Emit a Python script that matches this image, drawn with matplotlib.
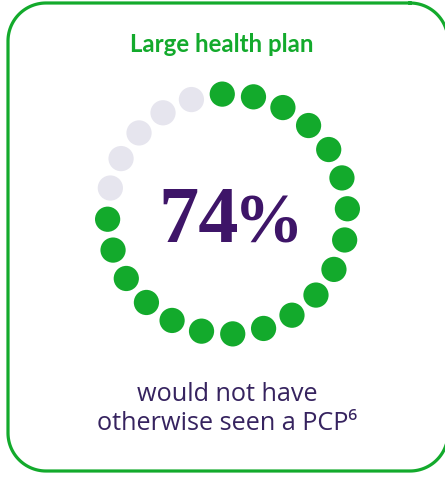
import numpy as np
import matplotlib
matplotlib.use("Agg")
import matplotlib.pyplot as plt

# chart content
title = "Large health plan"
value_num = "74"
value_unit = "%"
caption_lines = ["would not have", "otherwise seen a PCP\u2076"]
dots_total = 24
dots_filled = 19

green = "#13aa2c"
grey = "#e6e5ee"
purple = "#3e1568"
text_purple = "#36235f"


def rounded_outline(x0, y0, x1, y1, rad, n=30):
    # closed outline of a rounded rectangle, y axis pointing down
    pts = []
    corners = [(x1 - rad, y0 + rad, -90, 0), (x1 - rad, y1 - rad, 0, 90),
               (x0 + rad, y1 - rad, 90, 180), (x0 + rad, y0 + rad, 180, 270)]
    for ccx, ccy, a0, a1 in corners:
        t = np.deg2rad(np.linspace(a0, a1, n))
        pts += list(zip(ccx + rad * np.cos(t), ccy + rad * np.sin(t)))
    pts.append(pts[0])
    return np.array(pts)


fig = plt.figure(figsize=(4.45, 4.78), dpi=100)
ax = fig.add_axes([0, 0, 1, 1])
ax.set_xlim(0, 445)
ax.set_ylim(478, 0)
ax.axis("off")

# rounded card border (runs off the right edge)
card = rounded_outline(8, 3, 448, 471, 38)
ax.plot(card[:, 0], card[:, 1], color=green, lw=2.3, solid_joinstyle="round")

ax.text(222, 52, title, ha="center", va="baseline", color=green,
        fontsize=17.3, fontweight="bold", family="Lato")

# ring of dots, clockwise from the top
cx, cy, r = 227.5, 214, 120
step = 360 / dots_total
ang = np.deg2rad(-2.5 + step * np.arange(dots_total))
xs = cx + r * np.sin(ang)
ys = cy - r * np.cos(ang)
cols = [green if i < dots_filled else grey for i in range(dots_total)]
ax.scatter(xs, ys, s=330, c=cols, linewidths=0)

ax.text(239, 242, value_num, ha="right", va="baseline", color=purple,
        fontsize=58, fontweight="bold", family="Liberation Serif")
ax.text(234, 242, value_unit, ha="left", va="baseline", color=purple,
        fontsize=50, fontweight="bold", family="Liberation Serif")

cap_fonts = ["Open Sans", "DejaVu Sans"]
ax.text(227, 401, caption_lines[0], ha="center", va="baseline", color=text_purple,
        fontsize=18.2, family=cap_fonts)
ax.text(227, 430, caption_lines[1], ha="center", va="baseline", color=text_purple,
        fontsize=18.2, family=cap_fonts)

fig.savefig("out.png", dpi=100)
